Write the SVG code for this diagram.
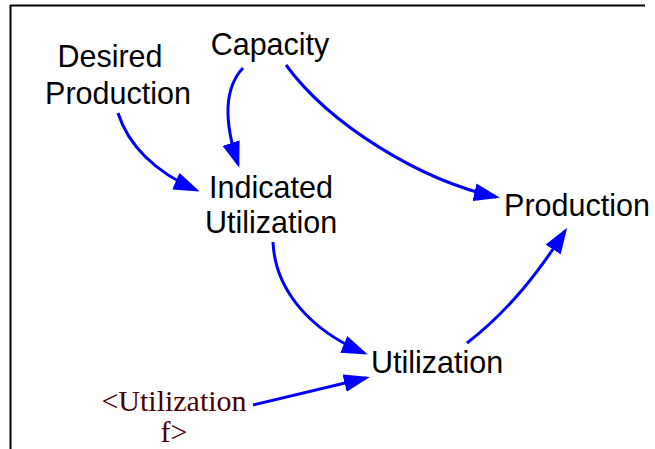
<svg xmlns="http://www.w3.org/2000/svg" width="655" height="449" viewBox="0 0 655 449">
  <style>
    .lbl { font-family: "Liberation Sans", Arial, sans-serif; font-size: 30.5px; fill: #000; text-anchor: middle; }
    .shadow { font-family: "Liberation Serif", "Times New Roman", serif; font-size: 30px; fill: #4b0000; text-anchor: middle; }
    .link { fill: none; stroke: #0000ff; stroke-width: 3; marker-end: url(#arr); }
  </style>
  <defs>
    <marker id="arr" markerUnits="userSpaceOnUse" viewBox="0 0 26 18" refX="22" refY="9" markerWidth="26" markerHeight="18" orient="auto">
      <path d="M0,0 L26,9 L0,18 z" fill="#0000ff"/>
    </marker>
  </defs>
  <rect width="655" height="449" fill="#fff"/>
  <g id="frame" stroke="#000" stroke-width="2" fill="none">
    <path d="M10,5.5 H645 M10.5,5 V449"/>
  </g>
  <g id="connectors">
    <path class="link" d="M118,113 C128,145 155,172 196,190"/>
    <path class="link" d="M243,68 C226,86 222,116 238,164"/>
    <path class="link" d="M286,65 C330,125 420,180 496,197"/>
    <path class="link" d="M273,242 C275,290 310,330 364,353"/>
    <path class="link" d="M467,343 C510,310 540,270 565,231"/>
    <path class="link" d="M253,405 L366,378"/>
  </g>
  <g id="desired-production">
    <text class="lbl" x="110" y="67">Desired</text>
    <text class="lbl" x="118" y="104">Production</text>
  </g>
  <g id="capacity">
    <text class="lbl" x="270" y="55">Capacity</text>
  </g>
  <g id="indicated-utilization">
    <text class="lbl" x="271" y="198">Indicated</text>
    <text class="lbl" x="271" y="233">Utilization</text>
  </g>
  <g id="production">
    <text class="lbl" x="577" y="216">Production</text>
  </g>
  <g id="utilization">
    <text class="lbl" x="437" y="373">Utilization</text>
  </g>
  <g id="utilization-f">
    <text class="shadow" x="174" y="411">&lt;Utilization</text>
    <text class="shadow" x="174" y="442">f&gt;</text>
  </g>
</svg>
